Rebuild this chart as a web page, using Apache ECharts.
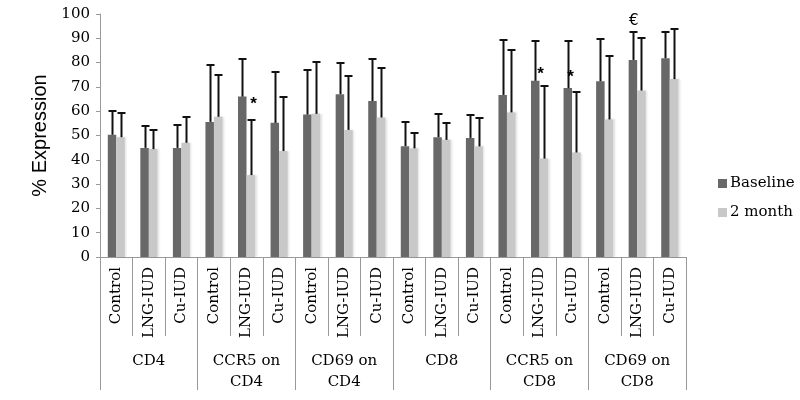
<!DOCTYPE html>
<html>
<head>
<meta charset="utf-8">
<script src="https://cdn.jsdelivr.net/npm/echarts@6/dist/echarts.min.js"></script>
<style>html,body{margin:0;padding:0;background:#fff;}#c{width:800px;height:400px;}</style>
</head>
<body>
<div id="c"></div>
<script>
// ---- data ----
const subCategories = ['Control','LNG-IUD','Cu-IUD','Control','LNG-IUD','Cu-IUD','Control','LNG-IUD','Cu-IUD',
                       'Control','LNG-IUD','Cu-IUD','Control','LNG-IUD','Cu-IUD','Control','LNG-IUD','Cu-IUD'];
const groups = ['CD4','CCR5 on\nCD4','CD69 on\nCD4','CD8','CCR5 on\nCD8','CD69 on\nCD8'];
const seriesNames = ['Baseline','2 month'];
const baseline = [50.3,44.9,44.9,55.6,66.0,55.2,58.6,67.0,64.2,45.6,49.3,49.0,66.7,72.5,69.5,72.3,81.1,81.8];
const baselineErr = [9.8,9.2,9.6,23.6,15.6,21.0,18.5,13.0,17.4,9.9,9.5,9.5,22.8,16.5,19.3,17.4,11.4,10.9];
const month2 = [49.3,44.4,47.0,57.7,33.7,43.6,58.9,52.3,57.4,44.7,48.2,45.5,59.5,40.5,43.0,56.6,68.5,73.2];
const month2Err = [10.0,7.7,10.7,17.2,22.5,22.2,21.2,22.2,20.4,6.5,6.9,11.5,25.6,30.0,25.1,26.3,21.8,20.6];
const yTicks = {min:0, max:100, interval:10};
const annotIndex = [4, 13, 14, 16];
const annotValue = [64, 76.4, 75.3, 97];
const annotText = ['*', '*', '*', '€'];

// ---- styles ----
const BAR_W = 8.5;
const annotDx = [7, 1, -1.5, -3.5];
const serif = 'DejaVu Serif';

function errSeries(vals, errs, dx) {
  return {
    type: 'custom',
    xAxisIndex: 0,
    z: 5,
    silent: true,
    data: vals.map((v, i) => [i, v, errs[i]]),
    encode: {x: 0, y: 1},
    renderItem: function (params, api) {
      const i = api.value(0), v = api.value(1), e = api.value(2);
      const b = api.coord([i, v]);
      const t = api.coord([i, v + e]);
      const x = Math.round(b[0] + dx) + 0.5;
      const ty = Math.round(t[1]);
      return {
        type: 'group',
        children: [
          {type: 'line', shape: {x1: x, y1: b[1], x2: x, y2: ty}, style: {stroke: '#111', lineWidth: 2}},
          {type: 'line', shape: {x1: x - 4, y1: ty, x2: x + 4, y2: ty}, style: {stroke: '#111', lineWidth: 2}}
        ]
      };
    }
  };
}

const chart = echarts.init(document.getElementById('c'), null, {renderer: 'canvas'});
chart.setOption({
  animation: false,
  backgroundColor: '#fff',
  grid: {left: 100, right: 114, top: 14, bottom: 143, containLabel: false},
  legend: {
    data: seriesNames,
    orient: 'vertical',
    left: 713, top: 171,
    itemWidth: 9, itemHeight: 9, itemGap: 14,
    icon: 'rect',
    textStyle: {fontFamily: serif, fontSize: 15, color: '#000', padding: [0, 0, 0, -2]}
  },
  xAxis: [
    {
      type: 'category',
      data: subCategories,
      position: 'bottom',
      axisLine: {show: true, lineStyle: {color: '#999', width: 1}},
      axisTick: {show: true, length: 79, interval: 0, alignWithLabel: false, lineStyle: {color: '#999'}},
      axisLabel: {interval: 0, rotate: 90, margin: 10, fontFamily: serif, fontSize: 15, color: '#000'},
      splitLine: {show: false}
    },
    {
      type: 'category',
      data: groups,
      position: 'bottom',
      axisLine: {show: false},
      axisTick: {show: true, length: 133, interval: 0, alignWithLabel: false, lineStyle: {color: '#999'}},
      axisLabel: {interval: 0, margin: 94, verticalAlign: 'top', lineHeight: 21, fontFamily: serif, fontSize: 15, color: '#000'},
      splitLine: {show: false}
    }
  ],
  yAxis: {
    type: 'value',
    min: yTicks.min, max: yTicks.max, interval: yTicks.interval,
    name: '% Expression',
    nameLocation: 'middle',
    nameRotate: 90,
    nameGap: 50,
    nameTextStyle: {fontFamily: 'Liberation Sans', fontSize: 20, color: '#000'},
    axisLine: {show: true, lineStyle: {color: '#999'}},
    axisTick: {show: true, length: 4, lineStyle: {color: '#999'}},
    axisLabel: {margin: 10, fontFamily: serif, fontSize: 15, color: '#000'},
    splitLine: {show: false}
  },
  series: [
    {
      name: seriesNames[0], type: 'bar', xAxisIndex: 0, data: baseline,
      barWidth: BAR_W, barGap: '0%',
      itemStyle: {color: '#686868'}
    },
    {
      name: seriesNames[1], type: 'bar', xAxisIndex: 0, data: month2,
      barWidth: BAR_W, barGap: '0%',
      itemStyle: {color: '#c8c8c8', shadowColor: 'rgba(0,0,0,0.12)', shadowBlur: 2, shadowOffsetX: 1.5}
    },
    errSeries(baseline, baselineErr, -BAR_W / 2),
    errSeries(month2, month2Err, BAR_W / 2),
    {
      type: 'custom',
      xAxisIndex: 0,
      z: 6,
      silent: true,
      data: annotIndex.map((c, k) => [c, annotValue[k], k]),
      encode: {x: 0, y: 1},
      renderItem: function (params, api) {
        const k = api.value(2);
        const p = api.coord([api.value(0), api.value(1)]);
        const isStar = annotText[k] === '*';
        return {
          type: 'text',
          x: p[0] + annotDx[k],
          y: p[1] + (isStar ? 3 : 0),
          style: {
            text: annotText[k],
            fill: '#000',
            font: isStar ? 'bold 17px "Liberation Sans"' : '15px "DejaVu Sans"',
            textAlign: 'center',
            textVerticalAlign: 'middle'
          }
        };
      }
    }
  ]
});
</script>
</body>
</html>
